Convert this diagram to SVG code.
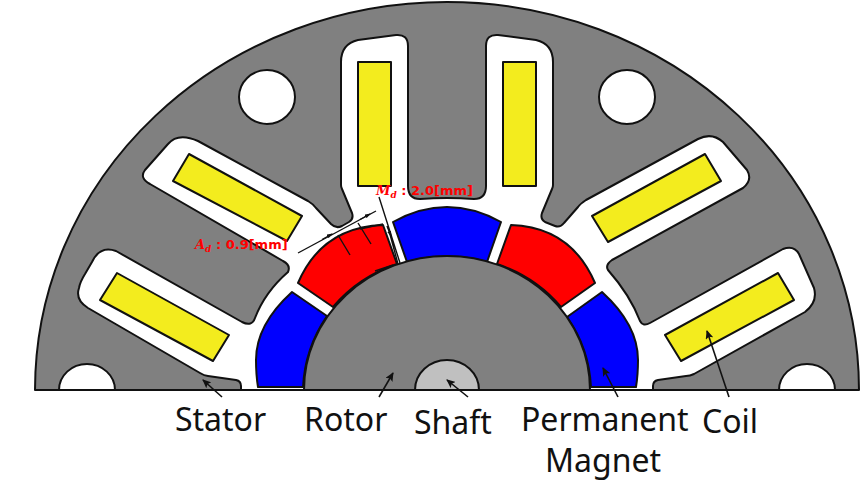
<svg xmlns="http://www.w3.org/2000/svg" width="865" height="482" viewBox="0 0 865 482">
<style>
.s{stroke:#111;stroke-width:2;stroke-linejoin:round}
.c{fill:#f3ec1e}.w{fill:#fff}.g{fill:#808080}.r{fill:#f00}.b{fill:#00f}
.l{font-family:"Noto Sans","Open Sans",sans-serif;font-size:32px;fill:#111}
.d{font-family:"DejaVu Sans",sans-serif;font-size:13px;font-weight:bold;fill:#f00}
.m{font-family:"DejaVu Serif",serif;font-style:italic}
.n{font-size:9px}
.a{stroke:#111;stroke-width:1.6;fill:none}
.t{stroke:#111;stroke-width:1.4;fill:none}
</style>
<defs>
<marker id="h" markerWidth="9" markerHeight="8" refX="8" refY="4" orient="auto" markerUnits="userSpaceOnUse"><path d="M0 0L9 4L0 8L2 4Z" fill="#111"/></marker>
<marker id="k" markerWidth="6" markerHeight="4" refX="5" refY="2" orient="auto" markerUnits="userSpaceOnUse"><path d="M0 0L6 2L0 4Z" fill="#111"/></marker>
</defs>
<g id="stator">
<path class="s g" d="M35 390A412 388 0 0 1 859 390Z"/>
<path class="s w" d="M241 390V386Q241 381 236 380L208 376Q204 375.500 200 373L88 308Q75 300 79 288Q80 282 85 274L92 262Q100 245 116 251L242 322Q252 327 255 318Q265 292 288 272Q291 265 283 261L150 184Q139 178 145 170L168 144Q178 132 198 141L308 201Q313 204 316 208L331 224Q336 229 342 226L349 222Q354 219 352 213L342 189Q341 187 341 185V62Q341 44 358 40L396 35Q408 34 408 46V186Q408 199 420 199Q447 197 474 199Q486 199 486 186V46Q486 34 498 35L536 40Q553 44 553 62V185Q553 187 552 189L542 213Q540 219 545 222L555 226Q560 228 564 223L578 207Q580 204 586 200L698 139Q712 132 723 142L747 170Q753 180 743 188L612 260Q605 265 608 270Q630 295 640 321Q643 327 650 323L783 249Q794 245 799 254L814 288Q818 302 805 312L694 374Q690 376 686 376L658 380Q653 381 653 386V390Z"/>
<ellipse class="s w" cx="267" cy="97" rx="28" ry="27"/>
<ellipse class="s w" cx="627" cy="97" rx="28" ry="27"/>
<path class="s w" d="M59 390A28 26 0 0 1 115 390Z"/>
<path class="s w" d="M779 390A28 26 0 0 1 835 390Z"/>
</g>
<g id="coils">
<path class="s c" d="M117 273L229 335L213 361L100 300Z"/>
<path class="s c" d="M189 154L302 216L287 241L173 181Z"/>
<path class="s c" d="M358 62H391V186H358Z"/>
<path class="s c" d="M503 62H536V186H503Z"/>
<path class="s c" d="M705 154L592 216L608 242L721 181Z"/>
<path class="s c" d="M778 273L665 335L681 361L794 300Z"/>
</g>
<g id="magnets">
<path class="s b" d="M393 222Q447 192 501 222L487 262A143 134 0 0 0 407 262Z"/>
<path class="s r" d="M298 283Q322 227 383 225L397 264A143 134 0 0 0 333 307Z"/>
<path class="s r" d="M595 283Q571 227 511 225L497 264A143 134 0 0 1 561 307Z"/>
<path class="s b" d="M292 292C270 312 256 335 256 360Q256 375 258 387H303Q305 348 327 316Z"/>
<path class="s b" d="M602 292C624 312 638 335 638 360Q638 375 636 387H591Q589 348 567 317Z"/>
</g>
<g id="rotor">
<path class="s g" d="M304 390A143 134 0 0 1 590 390Z"/>
<path class="s" fill="#c0c0c0" d="M415 390A32 30 0 0 1 479 390Z"/>
</g>
<path class="s" fill="none" d="M35 390H859"/>
<g id="connectors">
<path class="t" d="M298 253L376 211"/>
<path class="t" marker-end="url(#k)" d="M322 239.500L332 234"/>
<path class="t" marker-end="url(#k)" d="M360 219.500L370 214"/>
<path class="t" d="M338 235L350 255M358 223L371 244"/>
<path class="t" d="M379 197L400 263M388 227L398 264"/>
<path class="t" marker-end="url(#k)" d="M387 226L391 236"/>
<path class="t" d="M375 271L393 265M360 229L383 224"/>
<path class="a" marker-end="url(#h)" d="M222 397L203 380"/>
<path class="a" marker-end="url(#h)" d="M379 397L393 373"/>
<path class="a" marker-end="url(#h)" d="M468 397L447 380"/>
<path class="a" marker-end="url(#h)" d="M618 397L603 368"/>
<path class="a" marker-end="url(#h)" d="M729 397L707 331"/>
</g>
<g id="labels">
<text class="d" x="376" y="195"><tspan class="m">M</tspan><tspan class="m n" dy="3">d</tspan><tspan dy="-3"> : 2.0[mm]</tspan></text>
<text class="d" x="195" y="249"><tspan class="m">A</tspan><tspan class="m n" dy="3">d</tspan><tspan dy="-3"> : 0.9[mm]</tspan></text>
<text class="l" x="175" y="431">Stator</text>
<text class="l" x="304" y="431">Rotor</text>
<text class="l" x="414" y="434">Shaft</text>
<text class="l" x="521" y="431">Permanent</text>
<text class="l" x="545" y="472">Magnet</text>
<text class="l" x="702" y="433">Coil</text>
</g>
</svg>
